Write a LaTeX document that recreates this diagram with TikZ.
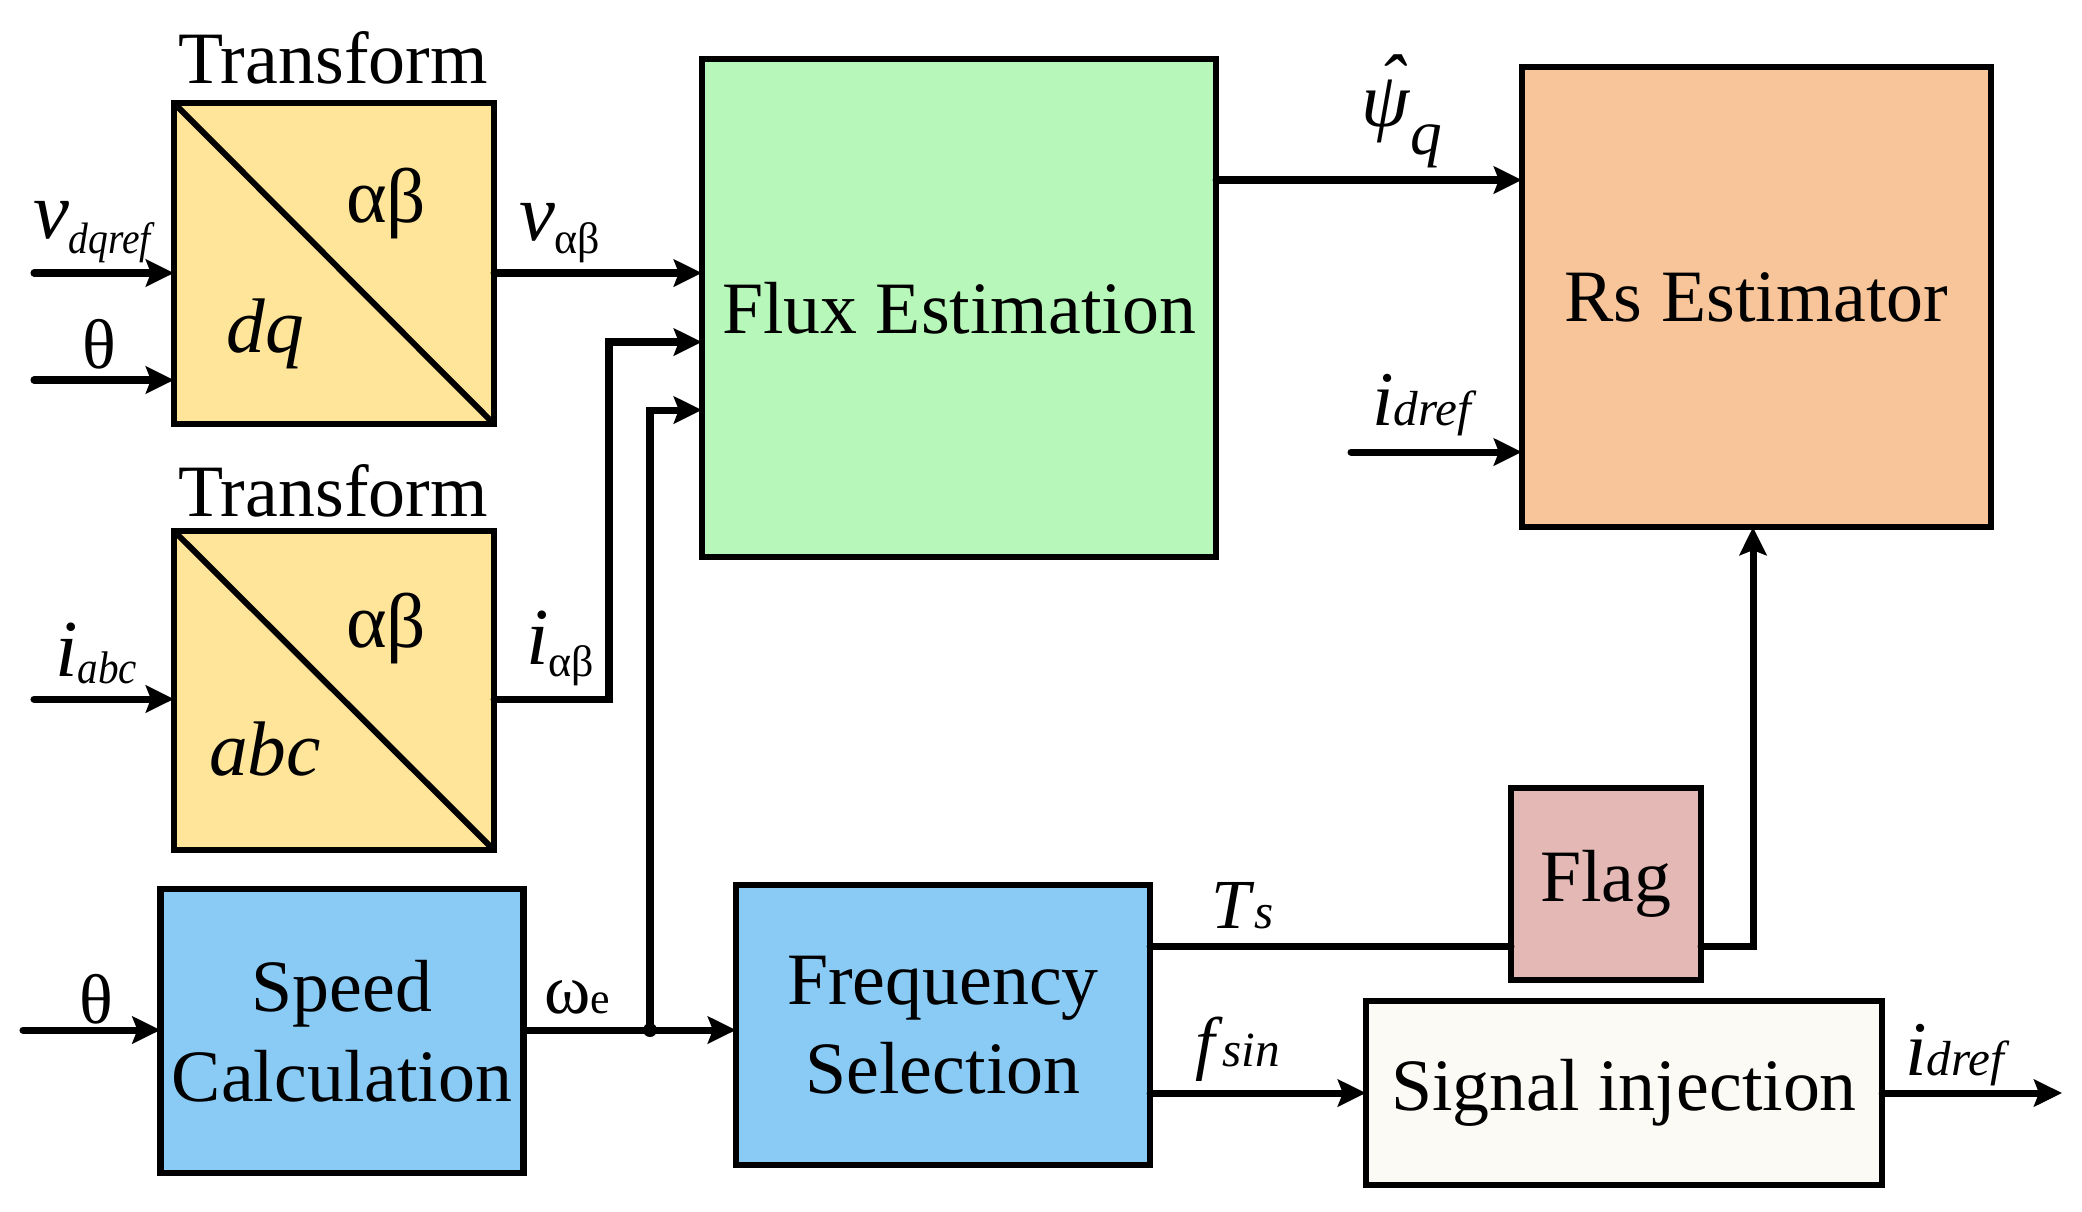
\documentclass[tikz,border=0pt]{standalone}
\usepackage{fontspec}
\usepackage{graphicx}
\setmainfont{Liberation Serif}
\usetikzlibrary{arrows.meta}
\definecolor{tyel}{RGB}{255,229,153}
\definecolor{fgreen}{RGB}{183,247,185}
\definecolor{rspeach}{RGB}{247,197,153}
\definecolor{sblue}{RGB}{137,203,245}
\definecolor{flagpink}{RGB}{228,184,181}
\definecolor{sigwhite}{RGB}{252,250,245}
\newcommand{\mainsz}{\fontsize{21}{25.5}\selectfont}
\newcommand{\labsz}{\fontsize{22}{22}\selectfont}
\newcommand{\subsz}{\fontsize{12.5}{12.5}\selectfont}
\newcommand{\narrow}[1]{\scalebox{0.9}[1]{#1}}
\begin{document}
\begin{tikzpicture}[x=0.01cm,y=-0.01cm,
  box/.style={draw, line width=1.85pt, rectangle, inner sep=0pt, outer sep=0pt, font=\mainsz, align=center},
  conn/.style={line width=2pt, line cap=round},
  arr/.style={conn, -{Stealth[length=0.28cm,width=0.27cm,inset=0.05cm]}},
  lbl/.style={inner sep=0pt, outer sep=0pt}]
\useasboundingbox (0,0) rectangle (2082,1211);

% boxes
\node[box, fill=tyel, minimum width=3.2cm, minimum height=3.21cm] (T1) at (334,263.5) {};
\draw[line width=1.7pt] (T1.north west) -- (T1.south east);
\node[box, fill=tyel, minimum width=3.2cm, minimum height=3.19cm] (T2) at (334,690.5) {};
\draw[line width=1.7pt] (T2.north west) -- (T2.south east);
\node[box, fill=fgreen, minimum width=5.14cm, minimum height=4.98cm] (Flux) at (959,308) {Flux Estimation};
\node[box, fill=rspeach, minimum width=4.69cm, minimum height=4.60cm] (Rs) at (1756.5,297) {Rs Estimator};
\node[box, fill=sblue, minimum width=3.63cm, minimum height=2.84cm] (Speed) at (342,1031) {Speed\\Calculation};
\node[box, fill=sblue, minimum width=4.14cm, minimum height=2.80cm] (Freq) at (943,1025) {Frequency\\Selection};
\node[box, fill=flagpink, minimum width=1.90cm, minimum height=1.92cm] (Flag) at (1606,884) {Flag};
\node[box, fill=sigwhite, minimum width=5.16cm, minimum height=1.84cm] (Sig) at (1624,1093) {Signal injection};

% texts in transform boxes
\node[lbl, anchor=base, font=\mainsz] (tr1) at (333,83) {Transform};
\node[lbl, anchor=base, font=\mainsz] (tr2) at (333,516) {Transform};
\node[lbl, anchor=base, font=\labsz] (ab1) at (386,222) {αβ};
\node[lbl, anchor=base, font=\labsz] (dq1) at (265,352) {\textit{dq}};
\node[lbl, anchor=base, font=\labsz] (ab2) at (386,647) {αβ};
\node[lbl, anchor=base, font=\labsz] (abc2) at (265,775) {\textit{abc}};

% connectors
\coordinate (in1) at (34,273);
\coordinate (in2) at (34,380);
\coordinate (in3) at (34,699);
\coordinate (in4) at (23,1030);
\coordinate (ia) at (609,342);
\coordinate (jn) at (650,1030);
\coordinate (jt) at (650,410);
\coordinate (psi) at (0,180);
\coordinate (idin) at (1351,452);
\coordinate (ts) at (0,946);
\coordinate (up) at (1753,946);
\coordinate (out) at (2062,1093);

\draw[arr] (in1) -- (in1 -| T1.west);
\draw[arr] (in2) -- (in2 -| T1.west);
\draw[arr] (in1 -| T1.east) -- (in1 -| Flux.west);
\draw[arr] (in3) -- (in3 -| T2.west);
\draw[arr] (in3 -| T2.east) -| (ia) -- (ia -| Flux.west);
\draw[arr] (in4) -- (in4 -| Speed.west);
\draw[arr] (in4 -| Speed.east) -- (in4 -| Freq.west);
\draw[arr] (jn) -- (jt) -- (jt -| Flux.west);
\fill (jn) circle[radius=0.07cm];
\draw[arr] (Flux.east |- psi) -- (Rs.west |- psi);
\draw[arr] (idin) -- (idin -| Rs.west);
\draw[conn] (Freq.east |- ts) -- (Flag.west |- ts);
\draw[arr] (Flag.east |- ts) -- (up) -- (up |- Rs.south);
\draw[arr] (Freq.east |- Sig.west) -- (Sig.west);
\draw[arr] (Sig.east) -- (out);

% signal labels
\node[lbl, anchor=base west, font=\labsz] (lv) at (33,238) {\fontsize{23}{23}\selectfont\textit{v}\raisebox{-4.5pt}{\narrow{\fontsize{12.5}{12.5}\selectfont\textit{dqref}}}};
\node[lbl, anchor=base, font=\fontsize{20}{20}\selectfont] (lth1) at (99,368) {θ};
\node[lbl, anchor=base west, font=\labsz] (lvab) at (519,240) {\fontsize{23}{23}\selectfont\textit{v}\raisebox{-3.7pt}{\subsz αβ}};
\node[lbl, anchor=base west, font=\labsz] (liabc) at (55,676) {\fontsize{23}{23}\selectfont\textit{i}\raisebox{-2pt}{\narrow{\fontsize{13}{13}\selectfont\textit{abc}}}};
\node[lbl, anchor=base west, font=\labsz] (liab) at (526,664) {\fontsize{23}{23}\selectfont\textit{i}\raisebox{-3.5pt}{\subsz αβ}};
\node[lbl, anchor=base, font=\fontsize{20}{20}\selectfont] (lth2) at (96,1023) {θ};
\node[lbl, anchor=base west, font=\fontsize{20}{20}\selectfont] (lwe) at (544,1013) {ω{\subsz e}};
\node[lbl, anchor=base west, font=\labsz] (lpsi) at (1361,126) {\textit{\rlap{\hspace{0.22em}\raisebox{0.22em}{ˆ}}ψ}\raisebox{-8pt}{\fontsize{18}{18}\selectfont\textit{q}}};
\node[lbl, anchor=base west, font=\labsz] (lidin) at (1372,425) {\textit{i}{\fontsize{14}{14}\selectfont\textit{dref}}};
\node[lbl, anchor=base west, font=\fontsize{20}{20}\selectfont] (lts) at (1211,928) {\textit{T}{\fontsize{14}{14}\selectfont\textit{s}}};
\node[lbl, anchor=base west, font=\fontsize{20}{20}\selectfont] (lfs) at (1195,1066) {\textit{f}{\fontsize{14}{14}\selectfont\textit{sin}}};
\node[lbl, anchor=base west, font=\labsz] (lidout) at (1905,1075) {\textit{i}{\fontsize{14}{14}\selectfont\textit{dref}}};
\end{tikzpicture}
\end{document}
